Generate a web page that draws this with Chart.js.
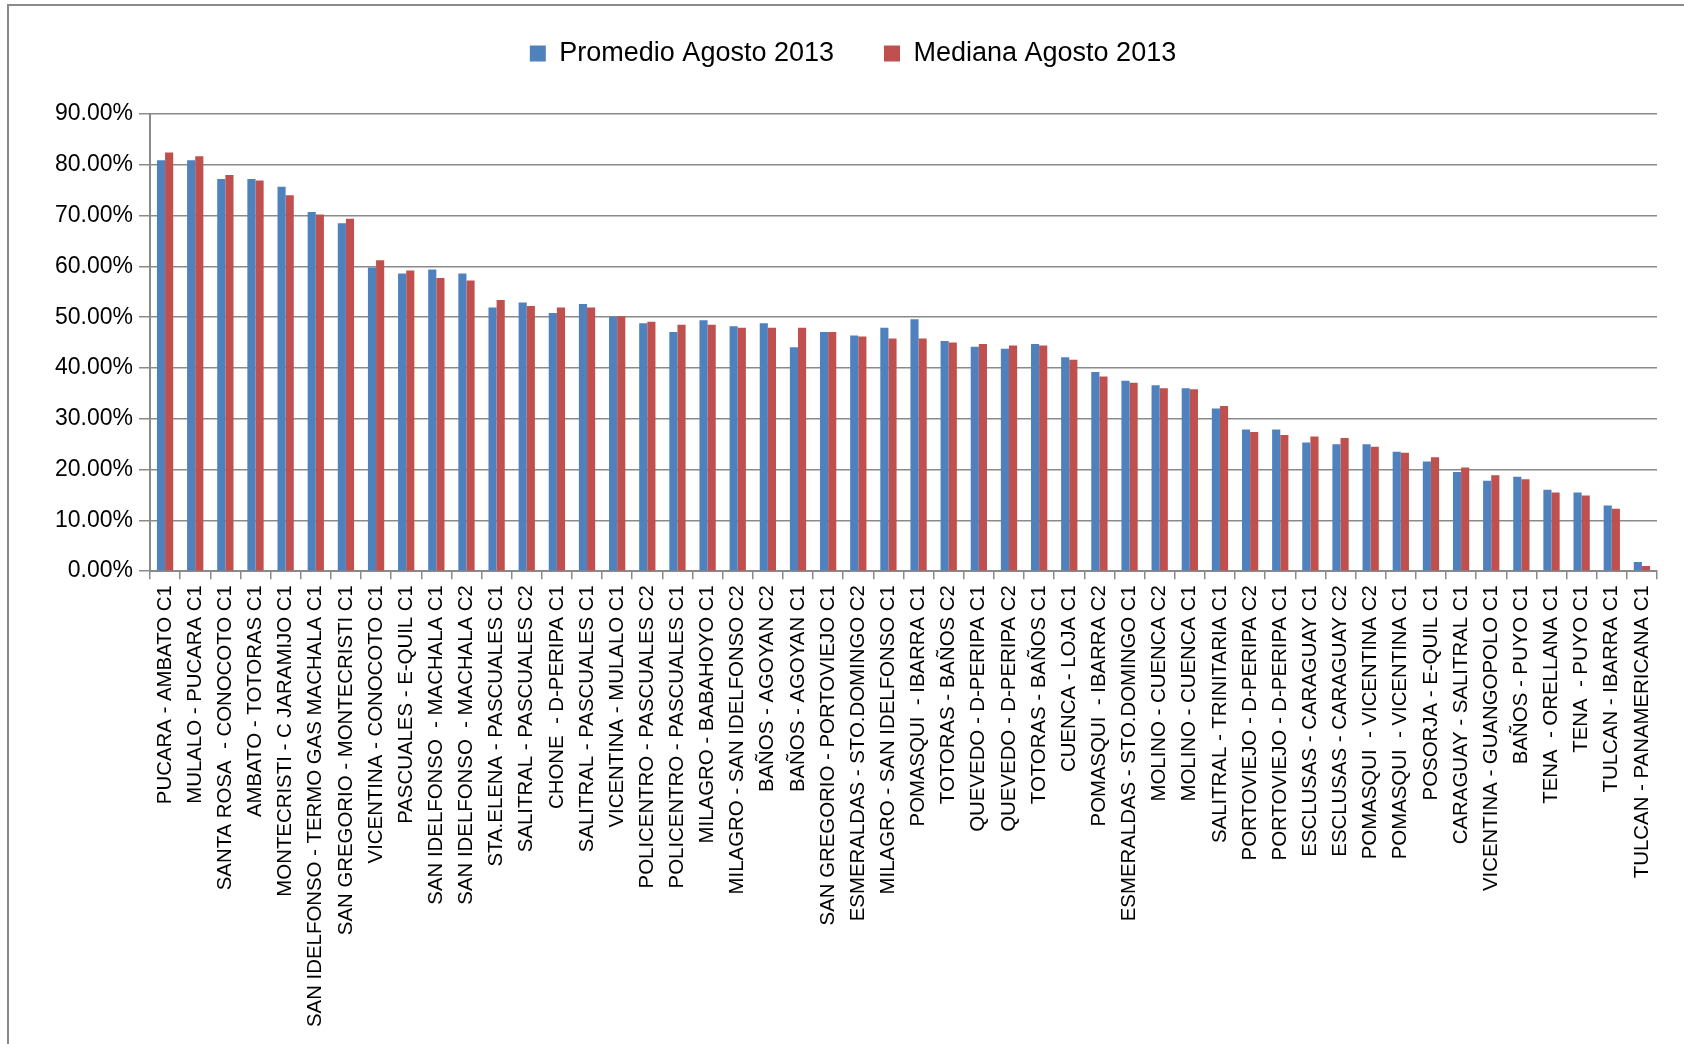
<!DOCTYPE html>
<html>
<head>
<meta charset="utf-8">
<script src="https://cdn.jsdelivr.net/npm/chart.js@4.4.1/dist/chart.umd.min.js"></script>
<style>
  body { margin: 0; background: #fff; overflow: hidden; }
  #frame {
    position: absolute; left: 7px; top: 4px;
    width: 1677px; height: 1040px;
    border-left: 2px solid #8a8a8a; border-top: 2px solid #8a8a8a;
  }
  #myChart { display: block; position: absolute; left: 9px; top: -10px; }
</style>
</head>
<body>
<div id="frame"></div>
<canvas id="myChart" width="1675" height="1056"></canvas>
<script>
var categories = [
  'PUCARA - AMBATO C1', 'MULALO - PUCARA C1', 'SANTA ROSA  - CONOCOTO C1', 'AMBATO - TOTORAS C1',
  'MONTECRISTI - C JARAMIJO C1', 'SAN IDELFONSO - TERMO GAS MACHALA C1', 'SAN GREGORIO - MONTECRISTI C1',
  'VICENTINA - CONOCOTO C1', 'PASCUALES - E-QUIL C1', 'SAN IDELFONSO  - MACHALA C1', 'SAN IDELFONSO  - MACHALA C2',
  'STA.ELENA - PASCUALES C1', 'SALITRAL - PASCUALES C2', 'CHONE  - D-PERIPA C1', 'SALITRAL - PASCUALES C1',
  'VICENTINA - MULALO C1', 'POLICENTRO - PASCUALES C2', 'POLICENTRO - PASCUALES C1', 'MILAGRO - BABAHOYO C1',
  'MILAGRO - SAN IDELFONSO C2', 'BAÑOS - AGOYAN C2', 'BAÑOS - AGOYAN C1', 'SAN GREGORIO - PORTOVIEJO C1',
  'ESMERALDAS - STO.DOMINGO C2', 'MILAGRO - SAN IDELFONSO C1', 'POMASQUI  - IBARRA C1', 'TOTORAS - BAÑOS C2',
  'QUEVEDO - D-PERIPA C1', 'QUEVEDO - D-PERIPA C2', 'TOTORAS - BAÑOS C1', 'CUENCA - LOJA C1',
  'POMASQUI  - IBARRA C2', 'ESMERALDAS - STO.DOMINGO C1', 'MOLINO - CUENCA C2', 'MOLINO - CUENCA C1',
  'SALITRAL - TRINITARIA C1', 'PORTOVIEJO - D-PERIPA C2', 'PORTOVIEJO - D-PERIPA C1', 'ESCLUSAS - CARAGUAY C1',
  'ESCLUSAS - CARAGUAY C2', 'POMASQUI  - VICENTINA C2', 'POMASQUI  - VICENTINA C1', 'POSORJA - E-QUIL C1',
  'CARAGUAY - SALITRAL C1', 'VICENTINA - GUANGOPOLO C1', 'BAÑOS - PUYO C1', 'TENA  - ORELLANA C1',
  'TENA  - PUYO C1', 'TULCAN - IBARRA C1', 'TULCAN - PANAMERICANA C1'
];

var promedio = [
  80.9, 80.9, 77.2, 77.2, 75.7, 70.7, 68.5, 59.8, 58.6, 59.4,
  58.6, 51.9, 52.9, 50.8, 52.6, 50.1, 48.8, 47.1, 49.4, 48.2,
  48.8, 44.1, 47.1, 46.4, 47.9, 49.6, 45.3, 44.2, 43.8, 44.7,
  42.1, 39.2, 37.5, 36.6, 36.0, 32.0, 27.9, 27.9, 25.3, 25.0,
  25.0, 23.5, 21.6, 19.5, 17.8, 18.6, 16.0, 15.5, 12.9, 1.8
];

var mediana = [
  82.4, 81.7, 78.0, 76.9, 74.0, 70.2, 69.4, 61.2, 59.2, 57.7,
  57.2, 53.4, 52.2, 51.9, 51.9, 50.2, 49.1, 48.5, 48.5, 47.9,
  47.9, 47.9, 47.1, 46.2, 45.8, 45.8, 45.0, 44.7, 44.4, 44.4,
  41.6, 38.3, 37.1, 36.0, 35.8, 32.5, 27.4, 26.8, 26.5, 26.2,
  24.5, 23.3, 22.4, 20.4, 18.9, 18.1, 15.5, 14.9, 12.3, 1.0
];

var yTicks = [0, 10, 20, 30, 40, 50, 60, 70, 80, 90];

var fontFamily = "'Liberation Sans', Arial, sans-serif";
var legendExtra = 37;

// tweak the legend box height so the plot starts where it should
var legendFit = {
  id: 'legendFit',
  beforeInit: function(chart) {
    var orig = chart.legend.fit;
    chart.legend.fit = function() {
      orig.call(this);
      this.height += legendExtra;
    };
  }
};

const ctx = document.getElementById('myChart');
const myChart = new Chart(ctx, {
  type: 'bar',
  data: {
    labels: categories,
    datasets: [{
      label: 'Promedio Agosto 2013',
      data: promedio,
      backgroundColor: '#4F81BD',
      borderWidth: 0
    }, {
      label: 'Mediana Agosto 2013',
      data: mediana,
      backgroundColor: '#C0504D',
      borderWidth: 0
    }]
  },
  plugins: [legendFit],
  options: {
    responsive: false,
    animation: false,
    layout: { padding: { left: 40, right: 27, top: 0, bottom: 13 } },
    datasets: {
      bar: { barPercentage: 1, categoryPercentage: 0.54 }
    },
    plugins: {
      tooltip: { enabled: false },
      legend: {
        position: 'top',
        labels: {
          color: '#000',
          font: { family: fontFamily, size: 27 },
          boxWidth: 16,
          boxHeight: 16,
          padding: 50
        }
      }
    },
    scales: {
      x: {
        grid: {
          drawOnChartArea: false,
          drawTicks: true,
          tickLength: 8,
          color: '#8a8a8a',
          lineWidth: 1.5
        },
        border: { color: '#8a8a8a', width: 2 },
        ticks: {
          autoSkip: false,
          maxRotation: 90,
          minRotation: 90,
          color: '#000',
          padding: 6,
          font: { family: fontFamily, size: 20.4 }
        }
      },
      y: {
        min: 0,
        max: 90,
        afterBuildTicks: function(axis) {
          axis.ticks = yTicks.map(function(v) { return { value: v }; });
        },
        grid: {
          color: '#8a8a8a',
          lineWidth: 1.5,
          tickLength: 11
        },
        border: { color: '#8a8a8a', width: 2 },
        ticks: {
          color: '#000',
          padding: 6,
          font: { family: fontFamily, size: 23 },
          callback: function(v) { return v.toFixed(2) + '%'; }
        }
      }
    }
  }
});
</script>
</body>
</html>
